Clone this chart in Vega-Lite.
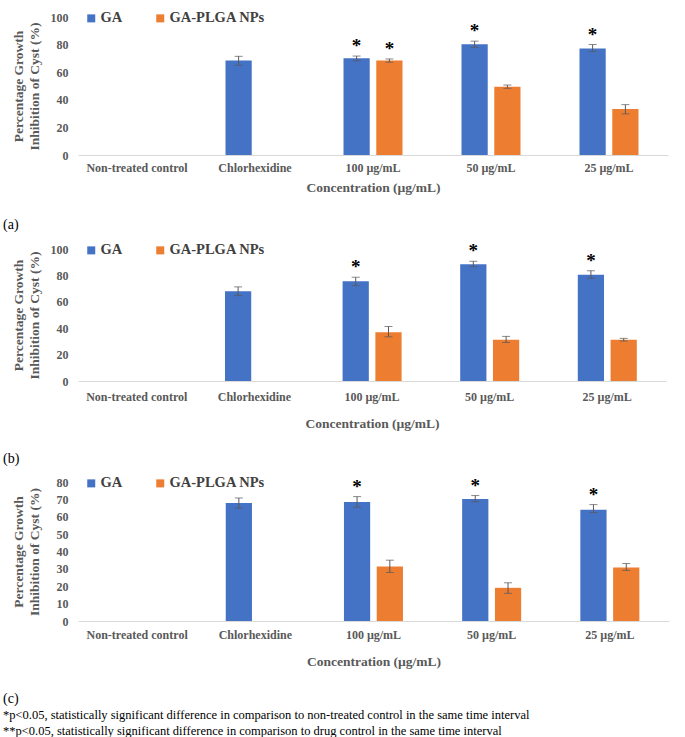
{
  "$schema": "https://vega.github.io/schema/vega-lite/v6.json",
  "background": "white",
  "padding": {"left": 3, "top": 11, "right": 5, "bottom": 0},
  "spacing": 10,
  "resolve": {"scale": {"color": "independent"}, "legend": {"color": "independent"}},
  "config": {
    "font": "Liberation Serif",
    "view": {"stroke": null},
    "axis": {"labelFont": "Liberation Serif", "labelFontWeight": "bold", "labelColor": "#595959", "labelFontSize": 12, "titleFont": "Liberation Serif", "titleFontWeight": "bold", "titleColor": "#595959", "titleFontSize": 13.5, "ticks": false, "grid": false},
    "axisY": {"domain": false, "labelPadding": 10, "titleLineHeight": 16, "titleX": -67, "titleBaseline": "top"},
    "axisX": {"domainColor": "#d9d9d9", "labelAngle": 0},
    "legend": {"orient": "none", "legendX": 6, "legendY": -6, "direction": "horizontal", "title": null, "symbolType": "square", "symbolSize": 64, "labelFont": "Liberation Serif", "labelFontWeight": "bold", "labelFontSize": 14.5, "labelColor": "#404040", "columnPadding": 30, "symbolOffset": 0, "labelOffset": 2},
    "title": {"font": "Liberation Serif", "fontWeight": "normal", "fontSize": 14, "color": "black", "subtitleFont": "Liberation Serif", "subtitleFontSize": 12.5, "subtitleColor": "black", "subtitleLineHeight": 16, "subtitlePadding": 3}
  },
  "datasets": {
    "d": [
      {"panel": "a", "cat": "Chlorhexidine", "series": "GA", "value": 68.4, "lo": 65.0, "hi": 71.5, "sig": ""},
      {"panel": "a", "cat": "100 µg/mL", "series": "GA", "value": 70.1, "lo": 68.3, "hi": 71.7, "sig": "*"},
      {"panel": "a", "cat": "100 µg/mL", "series": "GA-PLGA NPs", "value": 68.4, "lo": 67.2, "hi": 69.6, "sig": "*"},
      {"panel": "a", "cat": "50 µg/mL", "series": "GA", "value": 80.3, "lo": 78.0, "hi": 82.5, "sig": "*"},
      {"panel": "a", "cat": "50 µg/mL", "series": "GA-PLGA NPs", "value": 49.5, "lo": 48.3, "hi": 50.7, "sig": ""},
      {"panel": "a", "cat": "25 µg/mL", "series": "GA", "value": 77.2, "lo": 75.0, "hi": 80.0, "sig": "*"},
      {"panel": "a", "cat": "25 µg/mL", "series": "GA-PLGA NPs", "value": 33.3, "lo": 29.8, "hi": 36.5, "sig": ""},
      {"panel": "b", "cat": "Chlorhexidine", "series": "GA", "value": 68.0, "lo": 64.7, "hi": 71.3, "sig": ""},
      {"panel": "b", "cat": "100 µg/mL", "series": "GA", "value": 75.6, "lo": 72.3, "hi": 78.6, "sig": "*"},
      {"panel": "b", "cat": "100 µg/mL", "series": "GA-PLGA NPs", "value": 37.0, "lo": 33.5, "hi": 41.3, "sig": ""},
      {"panel": "b", "cat": "50 µg/mL", "series": "GA", "value": 88.4, "lo": 86.6, "hi": 90.7, "sig": "*"},
      {"panel": "b", "cat": "50 µg/mL", "series": "GA-PLGA NPs", "value": 31.2, "lo": 29.2, "hi": 33.8, "sig": ""},
      {"panel": "b", "cat": "25 µg/mL", "series": "GA", "value": 80.4, "lo": 77.8, "hi": 83.6, "sig": "*"},
      {"panel": "b", "cat": "25 µg/mL", "series": "GA-PLGA NPs", "value": 31.2, "lo": 30.3, "hi": 32.3, "sig": ""},
      {"panel": "c", "cat": "Chlorhexidine", "series": "GA", "value": 67.9, "lo": 65.0, "hi": 70.8, "sig": ""},
      {"panel": "c", "cat": "100 µg/mL", "series": "GA", "value": 68.5, "lo": 65.5, "hi": 71.6, "sig": "*"},
      {"panel": "c", "cat": "100 µg/mL", "series": "GA-PLGA NPs", "value": 31.4, "lo": 27.9, "hi": 35.0, "sig": ""},
      {"panel": "c", "cat": "50 µg/mL", "series": "GA", "value": 70.2, "lo": 68.7, "hi": 72.2, "sig": "*"},
      {"panel": "c", "cat": "50 µg/mL", "series": "GA-PLGA NPs", "value": 19.1, "lo": 15.9, "hi": 22.0, "sig": ""},
      {"panel": "c", "cat": "25 µg/mL", "series": "GA", "value": 64.1, "lo": 62.4, "hi": 67.0, "sig": "*"},
      {"panel": "c", "cat": "25 µg/mL", "series": "GA-PLGA NPs", "value": 30.8, "lo": 29.1, "hi": 33.1, "sig": ""}
    ]
  },
  "vconcat": [
    {
      "data": {"name": "d"},
      "transform": [{"filter": "datum.panel == 'a'"}],
      "width": 590,
      "height": 138,
      "title": {"text": "(a)", "orient": "bottom", "anchor": "start", "frame": "group", "offset": 24, "dx": -75},
      "encoding": {
        "x": {"field": "cat", "type": "nominal", "scale": {"domain": ["Non-treated control", "Chlorhexidine", "100 µg/mL", "50 µg/mL", "25 µg/mL"], "paddingInner": 0.5, "paddingOuter": 0.25}, "axis": {"title": "Concentration (µg/mL)", "labelPadding": 7, "titlePadding": 7}},
        "xOffset": {"field": "series", "type": "nominal", "scale": {"domain": ["GA", "GA-PLGA NPs"], "paddingInner": 0.2}}
      },
      "layer": [
        {"mark": {"type": "bar"}, "encoding": {
          "y": {"field": "value", "type": "quantitative", "scale": {"domain": [0, 100]}, "axis": {"title": ["Percentage Growth", "Inhibition of Cyst (%)"], "values": [0, 20, 40, 60, 80, 100], "labelOverlap": false}},
          "color": {"field": "series", "type": "nominal", "scale": {"domain": ["GA", "GA-PLGA NPs"], "range": ["#4472C4", "#ED7D31"]}}}},
        {"mark": {"type": "rule", "color": "#595959", "strokeWidth": 1}, "encoding": {"y": {"field": "lo", "type": "quantitative", "axis": {"title": ["Percentage Growth", "Inhibition of Cyst (%)"], "values": [0, 20, 40, 60, 80, 100], "labelOverlap": false}}, "y2": {"field": "hi"}}},
        {"mark": {"type": "tick", "color": "#595959", "size": 8, "thickness": 1, "orient": "horizontal"}, "encoding": {"y": {"field": "lo", "type": "quantitative", "axis": {"title": ["Percentage Growth", "Inhibition of Cyst (%)"], "values": [0, 20, 40, 60, 80, 100], "labelOverlap": false}}}},
        {"mark": {"type": "tick", "color": "#595959", "size": 8, "thickness": 1, "orient": "horizontal"}, "encoding": {"y": {"field": "hi", "type": "quantitative", "axis": {"title": ["Percentage Growth", "Inhibition of Cyst (%)"], "values": [0, 20, 40, 60, 80, 100], "labelOverlap": false}}}},
        {"mark": {"type": "text", "fontWeight": "bold", "fontSize": 19, "dy": -10, "color": "black", "font": "Liberation Serif"}, "encoding": {"y": {"field": "hi", "type": "quantitative", "axis": {"title": ["Percentage Growth", "Inhibition of Cyst (%)"], "values": [0, 20, 40, 60, 80, 100], "labelOverlap": false}}, "text": {"field": "sig"}}}
      ]
    },
    {
      "data": {"name": "d"},
      "transform": [{"filter": "datum.panel == 'b'"}],
      "width": 588,
      "height": 132,
      "title": {"text": "(b)", "orient": "bottom", "anchor": "start", "frame": "group", "offset": 22, "dx": -75},
      "encoding": {
        "x": {"field": "cat", "type": "nominal", "scale": {"domain": ["Non-treated control", "Chlorhexidine", "100 µg/mL", "50 µg/mL", "25 µg/mL"], "paddingInner": 0.5, "paddingOuter": 0.25}, "axis": {"title": "Concentration (µg/mL)", "labelPadding": 10, "titlePadding": 14}},
        "xOffset": {"field": "series", "type": "nominal", "scale": {"domain": ["GA", "GA-PLGA NPs"], "paddingInner": 0.2}}
      },
      "layer": [
        {"mark": {"type": "bar"}, "encoding": {
          "y": {"field": "value", "type": "quantitative", "scale": {"domain": [0, 100]}, "axis": {"title": ["Percentage Growth", "Inhibition of Cyst (%)"], "values": [0, 20, 40, 60, 80, 100], "labelOverlap": false}},
          "color": {"field": "series", "type": "nominal", "scale": {"domain": ["GA", "GA-PLGA NPs"], "range": ["#4472C4", "#ED7D31"]}}}},
        {"mark": {"type": "rule", "color": "#595959", "strokeWidth": 1}, "encoding": {"y": {"field": "lo", "type": "quantitative", "axis": {"title": ["Percentage Growth", "Inhibition of Cyst (%)"], "values": [0, 20, 40, 60, 80, 100], "labelOverlap": false}}, "y2": {"field": "hi"}}},
        {"mark": {"type": "tick", "color": "#595959", "size": 8, "thickness": 1, "orient": "horizontal"}, "encoding": {"y": {"field": "lo", "type": "quantitative", "axis": {"title": ["Percentage Growth", "Inhibition of Cyst (%)"], "values": [0, 20, 40, 60, 80, 100], "labelOverlap": false}}}},
        {"mark": {"type": "tick", "color": "#595959", "size": 8, "thickness": 1, "orient": "horizontal"}, "encoding": {"y": {"field": "hi", "type": "quantitative", "axis": {"title": ["Percentage Growth", "Inhibition of Cyst (%)"], "values": [0, 20, 40, 60, 80, 100], "labelOverlap": false}}}},
        {"mark": {"type": "text", "fontWeight": "bold", "fontSize": 19, "dy": -10, "color": "black", "font": "Liberation Serif"}, "encoding": {"y": {"field": "hi", "type": "quantitative", "axis": {"title": ["Percentage Growth", "Inhibition of Cyst (%)"], "values": [0, 20, 40, 60, 80, 100], "labelOverlap": false}}, "text": {"field": "sig"}}}
      ]
    },
    {
      "data": {"name": "d"},
      "transform": [{"filter": "datum.panel == 'c'"}],
      "width": 591,
      "height": 139,
      "title": {"text": "(c)", "orient": "bottom", "anchor": "start", "frame": "group", "offset": 24, "dx": -75,
        "subtitle": ["*p<0.05, statistically significant difference in comparison to non-treated control in the same time interval", "**p<0.05, statistically significant difference in comparison to drug control in the same time interval"]},
      "encoding": {
        "x": {"field": "cat", "type": "nominal", "scale": {"domain": ["Non-treated control", "Chlorhexidine", "100 µg/mL", "50 µg/mL", "25 µg/mL"], "paddingInner": 0.5, "paddingOuter": 0.25}, "axis": {"title": "Concentration (µg/mL)", "labelPadding": 8, "titlePadding": 14}},
        "xOffset": {"field": "series", "type": "nominal", "scale": {"domain": ["GA", "GA-PLGA NPs"], "paddingInner": 0.2}}
      },
      "layer": [
        {"mark": {"type": "bar"}, "encoding": {
          "y": {"field": "value", "type": "quantitative", "scale": {"domain": [0, 80]}, "axis": {"title": ["Percentage Growth", "Inhibition of Cyst (%)"], "values": [0, 10, 20, 30, 40, 50, 60, 70, 80], "labelOverlap": false}},
          "color": {"field": "series", "type": "nominal", "scale": {"domain": ["GA", "GA-PLGA NPs"], "range": ["#4472C4", "#ED7D31"]}}}},
        {"mark": {"type": "rule", "color": "#595959", "strokeWidth": 1}, "encoding": {"y": {"field": "lo", "type": "quantitative", "axis": {"title": ["Percentage Growth", "Inhibition of Cyst (%)"], "values": [0, 10, 20, 30, 40, 50, 60, 70, 80], "labelOverlap": false}}, "y2": {"field": "hi"}}},
        {"mark": {"type": "tick", "color": "#595959", "size": 8, "thickness": 1, "orient": "horizontal"}, "encoding": {"y": {"field": "lo", "type": "quantitative", "axis": {"title": ["Percentage Growth", "Inhibition of Cyst (%)"], "values": [0, 10, 20, 30, 40, 50, 60, 70, 80], "labelOverlap": false}}}},
        {"mark": {"type": "tick", "color": "#595959", "size": 8, "thickness": 1, "orient": "horizontal"}, "encoding": {"y": {"field": "hi", "type": "quantitative", "axis": {"title": ["Percentage Growth", "Inhibition of Cyst (%)"], "values": [0, 10, 20, 30, 40, 50, 60, 70, 80], "labelOverlap": false}}}},
        {"mark": {"type": "text", "fontWeight": "bold", "fontSize": 19, "dy": -10, "color": "black", "font": "Liberation Serif"}, "encoding": {"y": {"field": "hi", "type": "quantitative", "axis": {"title": ["Percentage Growth", "Inhibition of Cyst (%)"], "values": [0, 10, 20, 30, 40, 50, 60, 70, 80], "labelOverlap": false}}, "text": {"field": "sig"}}}
      ]
    }
  ]
}
